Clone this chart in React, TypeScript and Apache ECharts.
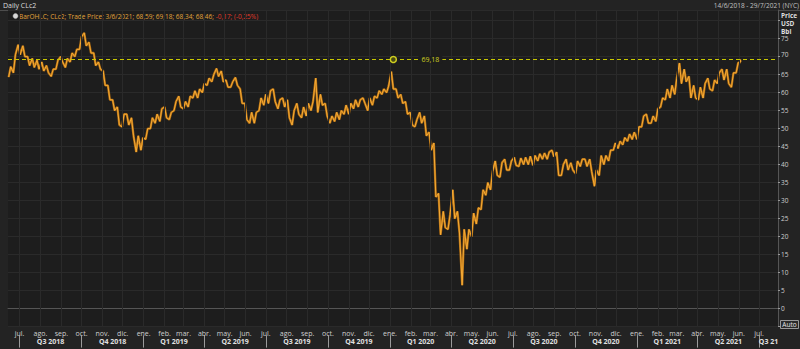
import React, { useEffect, useRef } from 'react';
import * as echarts from 'echarts';

// ---- data ----
const axisStart = '2018-06-14';
const axisEnd = '2021-07-29';
const firstWeek = '2018-06-14'; // each entry below = one trading week starting here, 7 days apart

const weeklyLow = [
  64.3, 65.5, 70.5, 70.0, 67.5, 67.0, 66.5, 66.0, 65.5, 64.5,
  66.5, 68.5, 67.0, 68.5, 70.0, 72.0, 73.0, 71.0, 67.5, 66.5,
  62.0, 58.0, 55.0, 51.0, 50.5, 51.0, 48.0, 43.5, 44.0, 47.0,
  50.0, 51.5, 52.0, 53.0, 52.5, 55.0, 56.0, 55.5, 56.0, 58.5,
  58.5, 60.0, 62.0, 63.0, 64.5, 63.0, 61.5, 61.5, 62.0, 57.0,
  52.5, 51.5, 51.5, 55.0, 56.5, 57.0, 57.5, 55.5, 56.0, 53.0,
  51.0, 54.0, 53.0, 53.5, 55.0, 54.5, 56.5, 53.5, 51.5, 52.0,
  52.5, 54.0, 54.0, 55.5, 56.0, 57.0, 55.0, 56.5, 58.5, 59.5,
  60.0, 61.0, 58.5, 57.0, 54.0, 51.0, 50.5, 51.5, 48.0, 44.0,
  31.0, 20.5, 22.5, 22.0, 25.0, 21.0, 6.5, 16.5, 20.0, 23.5,
  27.5, 31.5, 33.0, 37.0, 36.5, 38.5, 38.5, 39.8, 39.5, 40.0,
  40.0, 39.8, 41.0, 41.5, 41.5, 42.2, 37.0, 37.0, 38.5, 38.5,
  37.5, 39.5, 39.5, 38.0, 34.0, 37.0, 40.0, 41.0, 44.0, 44.5,
  45.5, 46.5, 47.0, 47.0, 50.5, 51.5, 51.5, 52.0, 56.0, 58.0,
  58.5, 59.5, 62.5, 63.0, 58.5, 58.5, 58.0, 58.5, 61.0, 60.5,
  62.5, 63.5, 62.5, 61.5, 65.5,
];

const weeklyHigh = [
  67.2, 70.5, 73.3, 73.0, 70.0, 69.5, 69.0, 68.5, 67.5, 66.5,
  69.0, 70.0, 69.5, 71.0, 72.0, 75.5, 76.6, 74.0, 71.0, 68.5,
  66.0, 62.0, 58.0, 56.0, 54.0, 54.0, 53.0, 48.0, 47.5, 50.0,
  53.0, 54.0, 55.5, 56.0, 54.5, 57.5, 59.0, 57.5, 59.0, 60.5,
  61.0, 62.5, 64.0, 65.0, 66.7, 66.0, 63.5, 63.0, 64.2, 61.0,
  57.0, 54.5, 54.5, 58.5, 59.5, 60.5, 61.0, 58.0, 58.5, 58.0,
  55.0, 57.0, 56.0, 57.0, 57.5, 64.0, 59.5, 57.0, 53.5, 54.5,
  55.0, 56.5, 57.0, 58.0, 58.0, 58.5, 58.5, 59.0, 60.5, 61.0,
  61.8, 65.8, 61.0, 59.5, 57.5, 54.5, 52.5, 54.5, 53.5, 49.0,
  46.0, 32.0, 27.0, 26.0, 33.0, 27.0, 22.0, 22.0, 26.5, 28.0,
  33.0, 35.0, 38.0, 41.0, 40.5, 41.5, 41.0, 42.0, 41.8, 42.0,
  42.3, 42.5, 43.0, 43.2, 43.5, 44.0, 43.5, 40.0, 41.5, 40.5,
  41.0, 41.5, 41.5, 41.5, 38.5, 42.5, 42.5, 44.0, 46.0, 46.5,
  47.5, 48.5, 49.0, 50.5, 53.5, 54.0, 53.5, 55.5, 58.5, 61.0,
  62.0, 64.0, 68.2, 66.5, 64.5, 62.0, 61.5, 62.5, 64.0, 63.5,
  65.5, 66.5, 66.5, 65.5, 68.3,
];

const lastBarDate = '2021-06-03';
const lastBarOHLC = [68.59, 69.18, 68.34, 68.46]; // open, high, low, close

const refLineValue = 69.18;
const refLineLabel = '69,18';
const refAnchorDate = '2020-01-06';
const refLabelDate = '2020-03-01';
const lastPriceLabel = '68,46';

const monthNames = ['ene.', 'feb.', 'mar.', 'abr.', 'may.', 'jun.', 'jul.', 'ago.', 'sep.', 'oct.', 'nov.', 'dic.'];
const firstMonthYear = 2018;
const firstMonthIndex = 6; // July
const monthCount = 37;

const quarterLabels = [
  'Q3 2018', 'Q4 2018', 'Q1 2019', 'Q2 2019', 'Q3 2019', 'Q4 2019',
  'Q1 2020', 'Q2 2020', 'Q3 2020', 'Q4 2020', 'Q1 2021', 'Q2 2021', 'Q3 21',
];

const yMin = -5;
const yMax = 82.94;
const yInterval = 5;
const yLabelMin = 0;
const yLabelMax = 75;
const yLabelRaised = 70; // label sitting just above the last-price tag

const titleText = 'Daily CLc2';
const rangeText = '14/6/2018 - 29/7/2021 (NYC)';
const legendText = 'BarOHLC; CLc2; Trade Price; 3/6/2021; 68,59; 69,18; 68,34; 68,46; ';
const legendChange = '-0,17; (-0,25%)';
const unitLines = ['Price', 'USD', 'Bbl'];

// ---- helpers ----
const DAY = 86400000;
const ts = (s: string) => {
  const [y, m, d] = s.split('-').map(Number);
  return Date.UTC(y, m - 1, d);
};

function buildPoints(): [number, number][] {
  const t0 = ts(firstWeek);
  const n = weeklyLow.length;
  const pts: [number, number][] = [];
  for (let i = 0; i < n; i++) {
    const lo = weeklyLow[i];
    const hi = weeklyHigh[i];
    const mid = (lo + hi) / 2;
    const nextMid = i + 1 < n ? (weeklyLow[i + 1] + weeklyHigh[i + 1]) / 2 : lastBarOHLC[3];
    const d = t0 + i * 7 * DAY;
    const first = nextMid >= mid ? lo : hi;
    const second = nextMid >= mid ? hi : lo;
    pts.push([d + 1 * DAY, first]);
    pts.push([d + 4 * DAY, second]);
  }
  const tl = ts(lastBarDate);
  pts.push([tl - 0.4 * DAY, lastBarOHLC[2]]);
  pts.push([tl, lastBarOHLC[1]]);
  pts.push([tl + 0.3 * DAY, lastBarOHLC[3]]);
  return pts;
}

function buildMonths() {
  const out: { t: number; label: string }[] = [];
  for (let k = 0; k < monthCount; k++) {
    const mi = firstMonthIndex + k;
    const y = firstMonthYear + Math.floor(mi / 12);
    const m = mi % 12;
    out.push({ t: Date.UTC(y, m, 1), label: monthNames[m] });
  }
  return out;
}

function buildQuarters() {
  const xMin = ts(axisStart);
  const xMax = ts(axisEnd);
  const starts: number[] = [];
  for (let k = 0; k < quarterLabels.length; k++) {
    const mi = firstMonthIndex + 3 * k;
    starts.push(Date.UTC(firstMonthYear + Math.floor(mi / 12), mi % 12, 1));
  }
  const mids: { t: number; label: string }[] = [];
  for (let k = 0; k < quarterLabels.length; k++) {
    const s = Math.max(starts[k], xMin);
    const mi = firstMonthIndex + 3 * (k + 1);
    let e = Date.UTC(firstMonthYear + Math.floor(mi / 12), mi % 12, 1);
    e = Math.min(e, xMax);
    mids.push({ t: Math.round((s + e) / 2), label: quarterLabels[k] });
  }
  return { starts, mids };
}

export default function App() {
  const ref = useRef<HTMLDivElement>(null);

  useEffect(() => {
    if (!ref.current) return;
    const chart = echarts.init(ref.current, undefined, { renderer: 'svg' });
    const points = buildPoints();
    const months = buildMonths();
    const quarters = buildQuarters();
    const monthMap = new Map(months.map((m) => [m.t, m.label]));
    const quarterMap = new Map(quarters.mids.map((q) => [q.t, q.label]));
    const font = '"Open Sans", "Noto Sans", sans-serif';

    const option: any = {
      animation: false,
      backgroundColor: '#232323',
      textStyle: { fontFamily: font },
      grid: {
        left: 8, right: 22, top: 10, bottom: 22.4,
        show: true, backgroundColor: '#1d1d1d', borderWidth: 0,
      },
      xAxis: [
        {
          type: 'value',
          min: ts(axisStart),
          max: ts(axisEnd),
          position: 'bottom',
          axisLine: { show: true, lineStyle: { color: '#555', width: 1 } },
          axisTick: { show: true, customValues: months.map((m) => m.t), length: 2, lineStyle: { color: '#999' } },
          axisLabel: {
            show: true,
            customValues: months.map((m) => m.t),
            formatter: (v: number) => monthMap.get(v) ?? '',
            fontSize: 7, color: '#cfcfcf', margin: 3, fontFamily: font,
          },
          splitLine: { show: false },
        },
        {
          type: 'value',
          min: ts(axisStart),
          max: ts(axisEnd),
          position: 'bottom',
          offset: 9,
          axisLine: { show: false },
          axisTick: { show: true, customValues: quarters.starts, length: 12, lineStyle: { color: '#9a9a9a' } },
          axisLabel: {
            show: true,
            customValues: quarters.mids.map((q) => q.t),
            formatter: (v: number) => quarterMap.get(v) ?? '',
            fontSize: 7, color: '#e0e0e0', margin: 2, fontFamily: font, fontWeight: 'bold',
          },
          splitLine: { show: false },
        },
      ],
      yAxis: {
        type: 'value',
        position: 'right',
        min: yMin,
        max: yMax,
        interval: yInterval,
        axisLine: { show: true, lineStyle: { color: '#555' } },
        axisTick: { show: true, length: 2, lineStyle: { color: '#999' } },
        axisLabel: {
          fontSize: 6.5, lineHeight: 6, color: '#cfcfcf', margin: 3, fontFamily: font,
          showMaxLabel: false,
          formatter: (v: number) => {
            if (v < yLabelMin || v > yLabelMax) return '';
            return v === yLabelRaised ? '{r|' + v + '}' : String(v);
          },
          rich: {
            r: { fontSize: 6.5, color: '#cfcfcf', padding: [0, 0, 4, 0], fontFamily: font },
          },
        },
        splitLine: { show: true, lineStyle: { color: '#2a2a2a', width: 1 } },
      },
      series: [
        {
          type: 'line',
          name: 'grid',
          data: [],
          z: 1,
          silent: true,
          markLine: {
            silent: true,
            symbol: ['none', 'none'],
            label: { show: false },
            lineStyle: { color: '#2a2a2a', width: 1, type: 'solid' },
            data: months.map((m) => ({ xAxis: m.t })),
          },
        },
        {
          type: 'line',
          name: 'CLc2 shade',
          data: points,
          showSymbol: false,
          symbol: 'none',
          z: 2,
          lineStyle: { color: '#ad6b12', width: 2.3 },
        },
        {
          type: 'line',
          name: 'CLc2',
          data: points,
          showSymbol: false,
          symbol: 'none',
          z: 3,
          lineStyle: { color: '#f6ab36', width: 1.0 },
          markLine: {
            silent: true,
            symbol: ['none', 'none'],
            data: [
              {
                yAxis: refLineValue,
                lineStyle: { color: '#c8c800', width: 1, type: [4, 3], opacity: 1 },
                label: { show: false },
              },
              {
                yAxis: lastBarOHLC[3],
                lineStyle: { opacity: 0, width: 0 },
                label: {
                  show: true, position: 'end', formatter: lastPriceLabel,
                  backgroundColor: '#e9a21f', color: '#1a1a1a', fontSize: 6, lineHeight: 6,
                  padding: [0.5, 2, 0.5, 2], distance: 0, offset: [0, 1.8], fontFamily: font,
                },
              },
            ],
          },
          markPoint: {
            silent: true,
            data: [
              {
                coord: [ts(refAnchorDate), refLineValue],
                symbol: 'circle', symbolSize: 6,
                itemStyle: { color: '#4a4a12', borderColor: '#d0d020', borderWidth: 1.5 },
                label: { show: false },
              },
              {
                coord: [ts(refLabelDate), refLineValue],
                symbol: 'rect', symbolSize: [1, 1],
                itemStyle: { color: 'rgba(0,0,0,0)' },
                label: {
                  show: true, position: 'inside', formatter: refLineLabel,
                  color: '#d0d020', fontSize: 7, backgroundColor: '#1d1d1d',
                  padding: [0, 3], fontFamily: font,
                },
              },
            ],
          },
        },
      ],
      graphic: [
        { type: 'line', shape: { x1: 0, y1: 10.5, x2: 800, y2: 10.5 }, style: { stroke: '#4d4d4d', lineWidth: 1 }, silent: true },
        { type: 'text', x: 3, y: 5, style: { text: titleText, fontSize: 7, fill: '#dcdcdc', verticalAlign: 'middle', fontFamily: font } },
        { type: 'text', x: 799, y: 5, style: { text: rangeText, fontSize: 6.5, fill: '#c0c0c0', align: 'right', verticalAlign: 'middle', fontFamily: font } },
        { type: 'circle', shape: { cx: 15.5, cy: 16, r: 2.6 }, style: { fill: '#d8d8d8', stroke: '#888', lineWidth: 0.5 } },
        {
          type: 'text', x: 19, y: 16,
          style: {
            text: '{a|' + legendText + '}{b|' + legendChange + '}',
            verticalAlign: 'middle', fontFamily: font,
            rich: {
              a: { fontSize: 6.5, fill: '#e3a43a', fontFamily: font },
              b: { fontSize: 6.5, fill: '#e23a2a', fontFamily: font },
            },
          },
        },
        ...unitLines.map((u, i) => ({
          type: 'text', x: 781, y: 15 + i * 8,
          style: { text: u, fontSize: 6.5, lineHeight: 7, fill: '#dedede', verticalAlign: 'middle', fontFamily: font, fontWeight: 'bold' },
        })),
        { type: 'rect', shape: { x: 780.5, y: 320.5, width: 18, height: 8 }, style: { fill: '#2a2a2a', stroke: '#9a9a9a', lineWidth: 1 } },
        { type: 'text', x: 789.5, y: 324.8, style: { text: 'Auto', fontSize: 6.5, fill: '#e6e6e6', align: 'center', verticalAlign: 'middle', fontFamily: font } },
      ],
    };

    chart.setOption(option);
    return () => chart.dispose();
  }, []);

  return (
    <div
      ref={ref}
      style={{ position: 'fixed', left: 0, top: 0, width: 800, height: 349 }}
    />
  );
}
